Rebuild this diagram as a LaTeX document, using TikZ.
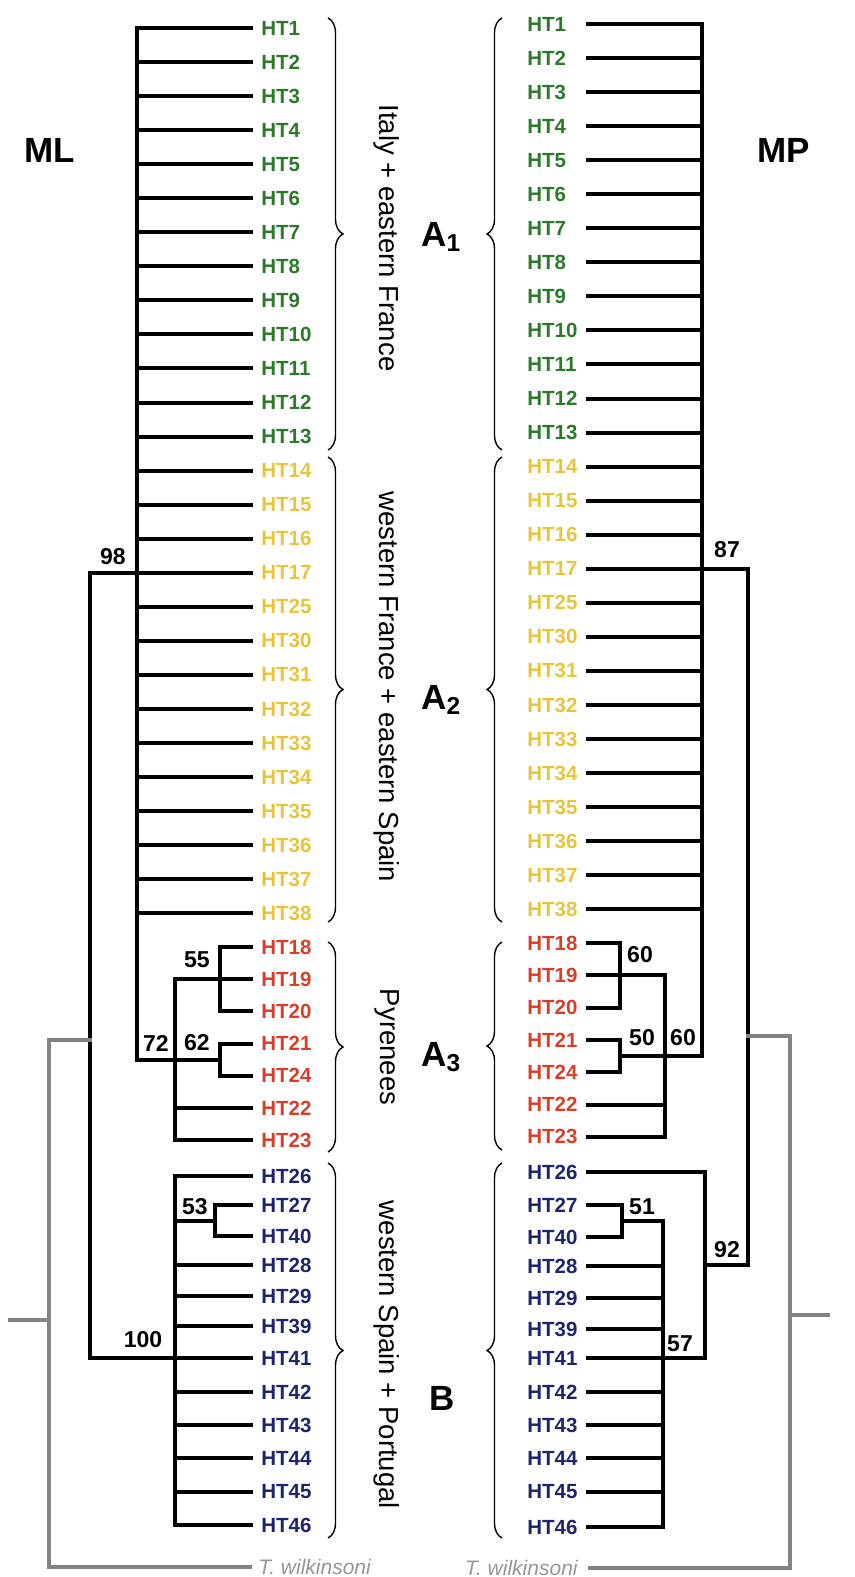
\documentclass[tikz,border=0pt]{standalone}
\usepackage{fontspec}
\setmainfont{Liberation Sans}
\usetikzlibrary{decorations.pathreplacing,calc}
\definecolor{htgreen}{RGB}{42,122,42}
\definecolor{htyellow}{RGB}{232,196,58}
\definecolor{htred}{RGB}{216,62,40}
\definecolor{htnavy}{RGB}{28,36,112}
\definecolor{rootgray}{RGB}{130,130,135}
\definecolor{txtgray}{RGB}{150,150,150}
\begin{document}
\begin{tikzpicture}[x=0.5pt,y=-0.5pt,
  br/.style={line width=2pt,line cap=rect,line join=miter},
  grl/.style={line width=2pt,draw=rootgray,line cap=rect,line join=miter},
  lab/.style={inner sep=0pt,font=\bfseries\fontsize{10.25}{12}\selectfont},
  num/.style={inner sep=0pt,font=\bfseries\fontsize{11.5}{13}\selectfont},
  region/.style={inner sep=0pt,rotate=-90,font=\fontsize{13.75}{16}\selectfont},
  clade/.style={inner sep=0pt,anchor=west,font=\bfseries\fontsize{17.5}{20}\selectfont},
  big/.style={inner sep=0pt,font=\bfseries\fontsize{17.5}{20}\selectfont},
  tax/.style={inner sep=0pt,text=txtgray,font=\itshape\fontsize{10.5}{12}\selectfont},
  brc/.style={decorate,decoration={brace,amplitude=7.5pt},line width=0.7pt}]
\useasboundingbox (0,0) rectangle (855,1577);

% ---------------- x positions ----------------
\coordinate (vL) at (137,0);
\coordinate (x98) at (90,0);
\coordinate (xB) at (175,0);
\coordinate (x55) at (220,0);
\coordinate (x53) at (215,0);
\coordinate (xR) at (702,0);
\coordinate (x87) at (748,0);
\coordinate (x92) at (705,0);
\coordinate (x57) at (663,0);
\coordinate (x51) at (622,0);
\coordinate (x60a) at (620,0);
\coordinate (x60b) at (665,0);

% ---------------- titles ----------------
\node[big] (ML) at (50,150) {ML};
\node[big] (MP) at (784,150) {MP};

% ---------------- left labels ----------------
\foreach \n [count=\i from 0] in {1,2,3,4,5,6,7,8,9,10,11,12,13}
  \node[lab,anchor=west,text=htgreen] (L\n) at (261,{28+34.05*\i}) {HT\n};
\foreach \n [count=\i from 13] in {14,15,16,17,25,30,31,32,33,34,35,36,37,38}
  \node[lab,anchor=west,text=htyellow] (L\n) at (261,{28+34.05*\i}) {HT\n};
\foreach \n [count=\i from 0] in {18,19,20,21,24,22,23}
  \node[lab,anchor=west,text=htred] (L\n) at (261,{947+32.2*\i}) {HT\n};
\foreach \n/\yy in {26/1176,27/1205,40/1236,28/1265,29/1296,39/1326,41/1358,42/1392,43/1425,44/1458,45/1492,46/1525}
  \node[lab,anchor=west,text=htnavy] (L\n) at (261,\yy) {HT\n};
\node[tax,anchor=west] (TL) at (258,1567) {T. wilkinsoni};

% ---------------- right labels ----------------
\foreach \n [count=\i from 0] in {1,2,3,4,5,6,7,8,9,10,11,12,13}
  \node[lab,anchor=west,text=htgreen] (R\n) at (527,{24+34.05*\i}) {HT\n};
\foreach \n [count=\i from 13] in {14,15,16,17,25,30,31,32,33,34,35,36,37,38}
  \node[lab,anchor=west,text=htyellow] (R\n) at (527,{24+34.05*\i}) {HT\n};
\foreach \n [count=\i from 0] in {18,19,20,21,24,22,23}
  \node[lab,anchor=west,text=htred] (R\n) at (527,{943+32.3*\i}) {HT\n};
\foreach \n/\yy in {26/1172,27/1205,40/1237,28/1266,29/1298,39/1329,41/1358,42/1392,43/1425,44/1458,45/1492,46/1527}
  \node[lab,anchor=west,text=htnavy] (R\n) at (527,\yy) {HT\n};
\node[tax,anchor=east] (TR) at (578,1568) {T. wilkinsoni};

% ---------------- left tree ----------------
\foreach \n in {1,2,3,4,5,6,7,8,9,10,11,12,13,14,15,16,17,25,30,31,32,33,34,35,36,37,38}
  \draw[br] ([xshift=-5pt]L\n.west) -- (L\n.west -| vL);
\coordinate (n62) at ($(L21.west -| x55)!0.5!(L24.west -| x55)$);
\draw[br] (L1.west -| vL) -- (vL |- n62) -- (n62);
\draw[br] (L18.west -| x55) -- (L20.west -| x55);
\draw[br] (L21.west -| x55) -- (L24.west -| x55);
\foreach \n in {18,19,20,21,24}
  \draw[br] ([xshift=-5pt]L\n.west) -- (L\n.west -| x55);
\draw[br] (L19.west -| xB) -- (L19.west -| x55);
\draw[br] (L19.west -| xB) -- (L23.west -| xB);
\foreach \n in {22,23}
  \draw[br] ([xshift=-5pt]L\n.west) -- (L\n.west -| xB);
\draw[br] (L17.west -| vL) -- (L17.west -| x98) -- (L41.west -| x98) -- (L41.west -| xB);
\draw[br] (L26.west -| xB) -- (L46.west -| xB);
\foreach \n in {26,28,29,39,41,42,43,44,45,46}
  \draw[br] ([xshift=-5pt]L\n.west) -- (L\n.west -| xB);
\draw[br] (L27.west -| x53) -- (L40.west -| x53);
\foreach \n in {27,40}
  \draw[br] ([xshift=-5pt]L\n.west) -- (L\n.west -| x53);
\coordinate (n53) at ($(L27.west -| x53)!0.5!(L40.west -| x53)$);
\draw[br] (n53) -- (n53 -| xB);
% root (grey)
\coordinate (gL) at (49,1040);
\coordinate (stubL) at (10,1320);
\draw[grl] (x98 |- gL) -- (gL) -- (gL |- TL.west) -- ([xshift=-4pt]TL.west);
\draw[grl] (stubL) -- (stubL -| gL);

% ---------------- right tree ----------------
\foreach \n in {1,2,3,4,5,6,7,8,9,10,11,12,13,14,15,16,17,25,30,31,32,33,34,35,36,37,38}
  \draw[br] ([xshift=30.5pt]R\n.west) -- (R\n.west -| xR);
\coordinate (n50) at ($(R21.west -| x60a)!0.5!(R24.west -| x60a)$);
\draw[br] (R1.west -| xR) -- (xR |- n50) -- (n50);
\draw[br] (R18.west -| x60a) -- (R20.west -| x60a);
\draw[br] (R21.west -| x60a) -- (R24.west -| x60a);
\foreach \n in {18,20,21,24}
  \draw[br] ([xshift=30.5pt]R\n.west) -- (R\n.west -| x60a);
\draw[br] ([xshift=30.5pt]R19.west) -- (R19.west -| x60b);
\draw[br] (R19.west -| x60b) -- (R23.west -| x60b);
\foreach \n in {22,23}
  \draw[br] ([xshift=30.5pt]R\n.west) -- (R\n.west -| x60b);
\coordinate (n92) at ($(R26.west -| x92)!0.5!(R41.west -| x92)$);
\draw[br] (R17.west -| xR) -- (R17.west -| x87) -- (x87 |- n92) -- (n92);
\draw[br] (R26.west -| x92) -- (R41.west -| x92);
\foreach \n in {26,41}
  \draw[br] ([xshift=30.5pt]R\n.west) -- (R\n.west -| x92);
\coordinate (n51) at ($(R27.west -| x51)!0.5!(R40.west -| x51)$);
\draw[br] (R27.west -| x51) -- (R40.west -| x51);
\foreach \n in {27,40}
  \draw[br] ([xshift=30.5pt]R\n.west) -- (R\n.west -| x51);
\draw[br] (n51) -- (n51 -| x57) -- (R46.west -| x57);
\foreach \n in {28,29,39,42,43,44,45,46}
  \draw[br] ([xshift=30.5pt]R\n.west) -- (R\n.west -| x57);
% root (grey)
\coordinate (gR) at (790,1036);
\coordinate (stubR) at (828,1315);
\draw[grl] (x87 |- gR) -- (gR) -- (gR |- TR.east) -- ([xshift=6pt]TR.east);
\draw[grl] (stubR) -- (stubR -| gR);

% ---------------- support values ----------------
\node[num] (s98) at (113,557) {98};
\node[num] (s55) at (197,960) {55};
\node[num] (s72) at (156,1043) {72};
\node[num] (s62) at (197,1043) {62};
\node[num] (s53) at (195,1207) {53};
\node[num] (s100) at (143,1340) {100};
\node[num] (s87) at (727,550) {87};
\node[num] (s60a) at (640,955) {60};
\node[num] (s50) at (642,1038) {50};
\node[num] (s60b) at (683,1038) {60};
\node[num] (s51) at (642,1207) {51};
\node[num] (s92) at (727,1250) {92};
\node[num] (s57) at (680,1344) {57};

% ---------------- braces ----------------
\draw[brc] (328,18) -- (328,450);
\draw[brc] (328,457) -- (328,922);
\draw[brc] (328,942) -- (328,1152);
\draw[brc] (328,1163) -- (328,1538);
\draw[brc] (502,450) -- (502,18);
\draw[brc] (502,922) -- (502,457);
\draw[brc] (502,1150) -- (502,942);
\draw[brc] (502,1538) -- (502,1163);

% ---------------- region names ----------------
\node[region] (r1) at (387,238) {Italy + eastern France};
\node[region] (r2) at (387,687) {western France + eastern Spain};
\node[region] (r3) at (387,1047) {Pyrenees};
\node[region] (r4) at (387,1355) {western Spain + Portugal};

\node[clade] (A1) at (421,237) {A\textsubscript{1}};
\node[clade] (A2) at (421,700) {A\textsubscript{2}};
\node[clade] (A3) at (421,1057) {A\textsubscript{3}};
\node[clade] (Bc) at (429,1398) {B};
\end{tikzpicture}
\end{document}
